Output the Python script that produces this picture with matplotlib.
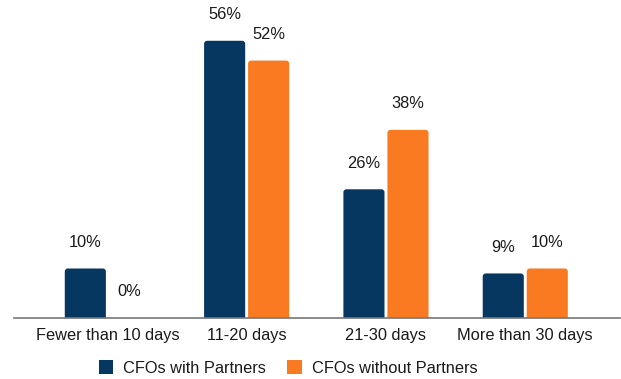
import matplotlib
matplotlib.use("Agg")
import matplotlib.pyplot as plt
import numpy as np
from matplotlib.patches import Patch, FancyBboxPatch

plt.rcParams['font.family'] = ['Liberation Sans', 'DejaVu Sans']

categories = ["Fewer than 10 days", "11-20 days", "21-30 days", "More than 30 days"]
with_partners = [10, 56, 26, 9]
without_partners = [0, 52, 38, 10]
series_names = ["CFOs with Partners", "CFOs without Partners"]

navy = "#053761"
orange = "#F97A21"
text_color = "#1a1a1a"
fs = 11.8

fig = plt.figure(figsize=(6.21, 3.79), dpi=100)
ax_w_px, ax_h_px = 606, 300
ax = fig.add_axes([14 / 621, 61 / 379, ax_w_px / 621, ax_h_px / 379])

x = np.arange(len(categories))
w = 0.295
off = 0.158
xlim = (-0.67, 3.68)
ylim = (0, 60.6)
ax.set_xlim(*xlim)
ax.set_ylim(*ylim)

b1 = ax.bar(x - off, with_partners, w, color=navy)
b2 = ax.bar(x + off, without_partners, w, color=orange)

# swap plain rectangles for ones with softly rounded top corners
xu_per_px = (xlim[1] - xlim[0]) / ax_w_px
yu_per_px = (ylim[1] - ylim[0]) / ax_h_px
for bars in (b1, b2):
    for rect in bars:
        h = rect.get_height()
        if h <= 0:
            continue
        r = 3 * xu_per_px
        patch = FancyBboxPatch((rect.get_x(), -2), rect.get_width(), h + 2,
                               boxstyle=f"round,pad=0,rounding_size={r}",
                               mutation_aspect=yu_per_px / xu_per_px,
                               facecolor=rect.get_facecolor(), edgecolor="none")
        ax.add_patch(patch)
        rect.set_visible(False)

for bars, vals in ((b1, with_partners), (b2, without_partners)):
    for rect, v in zip(bars, vals):
        ax.annotate(f"{v}%", (rect.get_x() + rect.get_width() / 2, v),
                    xytext=(0, 26), textcoords="offset pixels",
                    ha="center", va="center", fontsize=fs, color=text_color)

ax.set_xticks(x)
ax.set_xticklabels(categories, fontsize=fs, color=text_color)
ax.tick_params(axis="x", length=0, pad=7)
ax.set_yticks([])
for s in ("top", "right", "left"):
    ax.spines[s].set_visible(False)
ax.spines["bottom"].set_color("#777777")
ax.spines["bottom"].set_linewidth(1.2)

handles = [Patch(facecolor=navy), Patch(facecolor=orange)]
fig.legend(handles, series_names, loc="center", bbox_to_anchor=(288 / 621, 1 - 368 / 379),
           ncol=2, frameon=False, fontsize=fs, handlelength=0.9, handleheight=0.9,
           handletextpad=0.6, columnspacing=1.3, labelcolor=text_color)

fig.savefig("out.png", dpi=100)
